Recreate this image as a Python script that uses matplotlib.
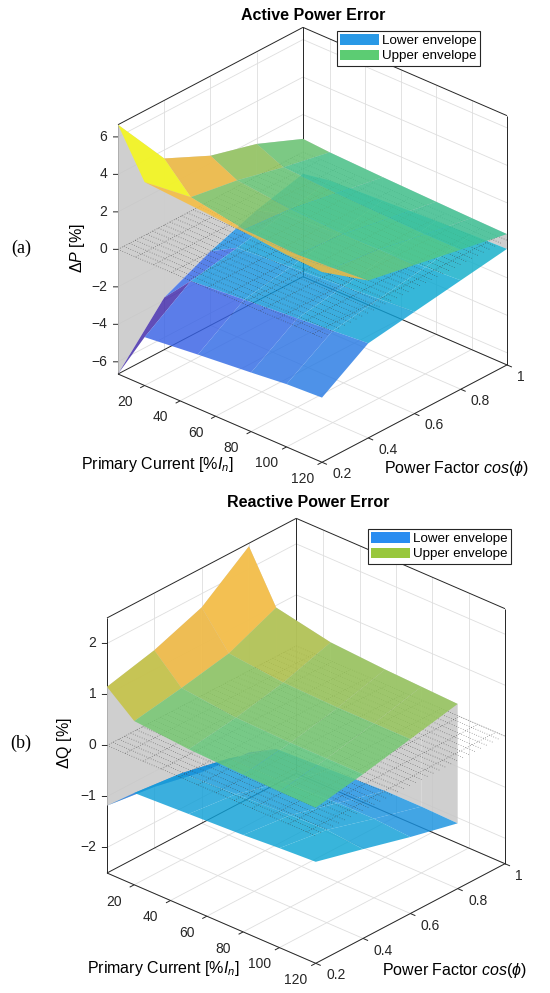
import numpy as np
import matplotlib
matplotlib.use("Agg")
import matplotlib.pyplot as plt
from matplotlib.colors import LinearSegmentedColormap, Normalize
from matplotlib.patches import Patch
from mpl_toolkits.mplot3d import proj3d
from mpl_toolkits.mplot3d.art3d import Poly3DCollection, Line3DCollection

plt.rcParams['font.family'] = ['Liberation Sans', 'DejaVu Sans']
plt.rcParams['mathtext.fontset'] = 'custom'
plt.rcParams['mathtext.rm'] = 'Liberation Sans'
plt.rcParams['mathtext.it'] = 'Liberation Sans:italic'
plt.rcParams['font.size'] = 10

# data: primary current [% In] and power factor grids
current = [5, 20, 50, 80, 100, 120]
pf_p = [0.2, 0.4, 0.6, 0.8, 1.0]
pf_q = [0.2, 0.4, 0.6, 0.8]

# active power error envelopes [%], rows = power factor, cols = current
dp_upper = [[6.65, 4.20, 4.00, 3.80, 3.60, 3.50],
            [3.55, 2.10, 1.60, 1.50, 1.60, 1.75],
            [2.40, 1.70, 1.40, 1.30, 1.30, 1.28],
            [1.73, 1.10, 0.95, 0.85, 0.80, 0.80],
            [0.70, 0.60, 0.50, 0.42, 0.37, 0.33]]
dp_lower = [[-6.65, -4.07, -3.77, -3.50, -3.30, -3.20],
            [-3.87, -2.37, -2.14, -1.91, -1.75, -1.60],
            [-2.70, -1.90, -1.70, -1.50, -1.35, -1.22],
            [-1.80, -1.40, -1.20, -1.05, -0.95, -0.84],
            [-1.16, -0.90, -0.75, -0.60, -0.52, -0.46]]

# reactive power error envelopes [%]
dq_upper = [[1.15, 0.71, 0.62, 0.58, 0.56, 0.55],
            [1.38, 0.87, 0.75, 0.72, 0.72, 0.72],
            [1.73, 1.06, 0.95, 0.92, 0.92, 0.92],
            [2.44, 1.47, 1.25, 1.18, 1.15, 1.12]]
dq_lower = [[-1.18, -0.70, -0.65, -0.60, -0.55, -0.51],
            [-1.30, -0.80, -0.75, -0.70, -0.68, -0.75],
            [-1.50, -1.00, -1.00, -0.95, -0.95, -1.00],
            [-1.60, -1.30, -1.25, -1.20, -1.20, -1.22]]

x_ticks = [20, 40, 60, 80, 100, 120]
y_ticks = [0.2, 0.4, 0.6, 0.8, 1.0]
y_ticklabels = ['0.2', '0.4', '0.6', '0.8', '1']
p_zticks = [-6, -4, -2, 0, 2, 4, 6]
q_zticks = [-2, -1, 0, 1, 2]
p_zlim = (-6.65, 6.65)
q_zlim = (-2.5, 2.5)

PARULA = [(0.00, (0.242, 0.150, 0.660)), (0.10, (0.270, 0.260, 0.890)),
          (0.20, (0.210, 0.390, 0.900)), (0.30, (0.100, 0.560, 0.880)),
          (0.40, (0.040, 0.660, 0.820)), (0.50, (0.120, 0.740, 0.700)),
          (0.60, (0.330, 0.790, 0.520)), (0.70, (0.620, 0.770, 0.320)),
          (0.735, (0.800, 0.760, 0.220)), (0.77, (0.960, 0.730, 0.230)),
          (0.88, (0.995, 0.750, 0.220)), (1.00, (0.976, 0.983, 0.054))]
parula = LinearSegmentedColormap.from_list('parula', PARULA)

W, H = 550, 993
AXC = (0.15, 0.15, 0.15)
GRID = (0.87, 0.87, 0.87)


def surface_polys(x, y, z, norm, alpha):
    polys, cols = [], []
    for i in range(len(y) - 1):
        for j in range(len(x) - 1):
            polys.append([(x[j], y[i], z[i][j]), (x[j + 1], y[i], z[i][j + 1]),
                          (x[j + 1], y[i + 1], z[i + 1][j + 1]), (x[j], y[i + 1], z[i + 1][j])])
            c = parula(norm(z[i][j]))
            cols.append((c[0], c[1], c[2], alpha))
    return polys, cols


def wall_polys(x, y, lo, up):
    polys = []
    for i in range(len(y) - 1):
        polys.append([(x[0], y[i], lo[i][0]), (x[0], y[i + 1], lo[i + 1][0]),
                      (x[0], y[i + 1], up[i + 1][0]), (x[0], y[i], up[i][0])])
    for j in range(len(x) - 1):
        polys.append([(x[j], y[-1], lo[-1][j]), (x[j + 1], y[-1], lo[-1][j + 1]),
                      (x[j + 1], y[-1], up[-1][j + 1]), (x[j], y[-1], up[-1][j])])
    return polys


def to_px(ax, pt):
    xs, ys, _ = proj3d.proj_transform(pt[0], pt[1], pt[2], ax.get_proj())
    d = ax.transData.transform((xs, ys))
    return d[0], H - d[1]


def panel(fig, rect, lo, up, pf, zlim, zticks, title, leg_cols, leg_xy, target):
    ax = fig.add_axes(rect, projection='3d')
    ax.set_proj_type('ortho')
    ax.view_init(elev=28.5, azim=-47.8)
    ax.set_box_aspect((1, 1, 1.03))
    ax.computed_zorder = False
    ax.set_axis_off()
    x0, x1 = current[0], current[-1]
    y0, y1 = 0.2, 1.0
    z0, z1 = zlim
    xr, yr, zr = x1 - x0, y1 - y0, z1 - z0
    ax.set_xlim(x0, x1)
    ax.set_ylim(y0, y1)
    ax.set_zlim(z0, z1)

    # grid on the back planes and the floor
    grid = [[(x0, t, z0), (x0, t, z1)] for t in y_ticks]
    grid += [[(x0, y0, t), (x0, y1, t)] for t in zticks]
    grid += [[(x0, y1, t), (x1, y1, t)] for t in zticks]
    grid += [[(t, y1, z0), (t, y1, z1)] for t in x_ticks]
    grid += [[(t, y0, z0), (t, y1, z0)] for t in x_ticks]
    grid += [[(x0, t, z0), (x1, t, z0)] for t in y_ticks]
    ax.add_collection3d(Line3DCollection(grid, colors=[GRID], linewidths=0.6, zorder=0.3))

    # box edges behind the data
    edges = [[(x0, y0, z0), (x0, y0, z1)], [(x0, y1, z0), (x0, y1, z1)], [(x1, y1, z0), (x1, y1, z1)],
             [(x0, y0, z1), (x0, y1, z1)], [(x0, y1, z1), (x1, y1, z1)],
             [(x0, y0, z0), (x0, y1, z0)], [(x0, y1, z0), (x1, y1, z0)]]
    ax.add_collection3d(Line3DCollection(edges, colors=[AXC], linewidths=0.7, zorder=0.5))

    norm = Normalize(z0, z1)

    # back walls between envelopes
    walls = Poly3DCollection(wall_polys(current, pf, lo, up), facecolor=(0.78, 0.78, 0.78, 0.85),
                             edgecolor='none', zorder=1)
    ax.add_collection3d(walls)

    lp, lc = surface_polys(current, pf, lo, norm, 0.82)
    ax.add_collection3d(Poly3DCollection(lp, facecolors=lc, edgecolor='none', zorder=2))

    # dotted zero plane
    gx = np.arange(x0, x1 + 0.1, 10)
    gy = np.arange(y0, y1 + 1e-6, 0.025)
    segs = [[(x0, v, 0), (x1, v, 0)] for v in gy] + [[(u, y0, 0), (u, y1, 0)] for u in gx]
    ax.add_collection3d(Line3DCollection(segs, colors=[(0.2, 0.2, 0.2, 0.75)], linewidths=0.5,
                                         linestyles=[(0, (1, 2.5))], zorder=3))

    up_p, up_c = surface_polys(current, pf, up, norm, 0.83)
    ax.add_collection3d(Poly3DCollection(up_p, facecolors=up_c, edgecolor='none', zorder=4))

    # front axis lines and tick marks
    front = [[(x0, y0, z0), (x1, y0, z0)], [(x1, y0, z0), (x1, y1, z0)]]
    front += [[(t, y0, z0), (t, y0 - 0.024 * yr, z0)] for t in x_ticks]
    front += [[(x1, t, z0), (x1 + 0.024 * xr, t, z0)] for t in y_ticks]
    front += [[(x0, y0, t), (x0 - 0.0135 * xr, y0 - 0.0121 * yr, t)] for t in zticks]
    ax.add_collection3d(Line3DCollection(front, colors=[AXC], linewidths=0.7, zorder=5))

    # fit the projected box onto the target corners
    fig.canvas.draw()
    la = to_px(ax, (x0, y0, z0))
    ra = to_px(ax, (x1, y1, z0))
    scale = (target[1][0] - target[0][0]) / (ra[0] - la[0])
    pos = ax.get_position()
    cx, cy = pos.x0 + pos.width / 2, pos.y0 + pos.height / 2
    ax.set_position([cx - pos.width * scale / 2, cy - pos.height * scale / 2,
                     pos.width * scale, pos.height * scale])
    fig.canvas.draw()
    la = to_px(ax, (x0, y0, z0))
    pos = ax.get_position()
    ax.set_position([pos.x0 + (target[0][0] - la[0]) / W, pos.y0 - (target[0][1] - la[1]) / H,
                     pos.width, pos.height])
    fig.canvas.draw()

    # tick labels, anchored at the projected tick positions
    def label(pt, s, ha):
        px, py = to_px(ax, pt)
        fig.text(px / W, 1 - py / H, s, ha=ha, va='center', fontsize=10, color=AXC)

    for t in x_ticks:
        label((t, y0 - 0.1065 * yr, z0 - 0.024 * zr), str(t), 'center')
    for t, s in zip(y_ticks, y_ticklabels):
        label((x1 + 0.05 * xr, t, z0 - 0.030 * zr), s, 'left')
    for t in zticks:
        label((x0 - 0.0284 * xr, y0 - 0.0255 * yr, t), str(t).replace('-', '\u2212'), 'right')

    handles = [Patch(facecolor=leg_cols[0], edgecolor='none', label='Lower envelope'),
               Patch(facecolor=leg_cols[1], edgecolor='none', label='Upper envelope')]
    leg = fig.legend(handles=handles, loc='upper left', bbox_to_anchor=(leg_xy[0] / W, 1 - leg_xy[1] / H),
                     fancybox=False, framealpha=1, edgecolor=AXC, fontsize=9.6, handlelength=2.9,
                     handleheight=0.8, handletextpad=0.25, labelspacing=0.2, borderpad=0.25,
                     borderaxespad=0)
    leg.get_frame().set_linewidth(0.8)
    fig.text(target[2][0], 1 - target[2][1] / H, title, ha='center', va='center',
             fontsize=11.5, fontweight='bold')
    return ax


fig = plt.figure(figsize=(W / 100, H / 100), dpi=100)

# (a) active power
panel(fig, [0.05, 0.5, 0.9, 0.5], dp_lower, dp_upper, pf_p, p_zlim, p_zticks,
      'Active Power Error',
      [(0.16, 0.60, 0.90), (0.36, 0.80, 0.45)], (337, 31),
      [(118, 374), (507, 364), (313 / W, 15)])
fig.text(77 / W, 1 - 248 / H, r'$\Delta\mathit{P}$ [%]', rotation=90, ha='center', va='center', fontsize=11.5)
fig.text(157 / W, 1 - 464 / H, r'Primary Current [%$\mathit{I}_\mathit{n}$]', ha='center', va='center', fontsize=11.5)
fig.text(457 / W, 1 - 468 / H, r'Power Factor $\mathit{cos}(\phi)$', ha='center', va='center', fontsize=11.5)
fig.text(21 / W, 1 - 248 / H, '(a)', family='Liberation Serif', ha='center', va='center', fontsize=13)

# (b) reactive power
panel(fig, [0.05, 0.0, 0.9, 0.5], dq_lower, dq_upper, pf_q, q_zlim, q_zticks,
      'Reactive Power Error',
      [(0.16, 0.55, 0.94), (0.60, 0.78, 0.24)], (368, 529),
      [(107, 873), (505, 863), (308 / W, 503)])
fig.text(65 / W, 1 - 743 / H, r'$\Delta$Q [%]', rotation=90, ha='center', va='center', fontsize=11.5)
fig.text(163 / W, 1 - 968 / H, r'Primary Current [%$\mathit{I}_\mathit{n}$]', ha='center', va='center', fontsize=11.5)
fig.text(455 / W, 1 - 970 / H, r'Power Factor $\mathit{cos}(\phi)$', ha='center', va='center', fontsize=11.5)
fig.text(21 / W, 1 - 743 / H, '(b)', family='Liberation Serif', ha='center', va='center', fontsize=13)

fig.savefig('out.png', dpi=100)
